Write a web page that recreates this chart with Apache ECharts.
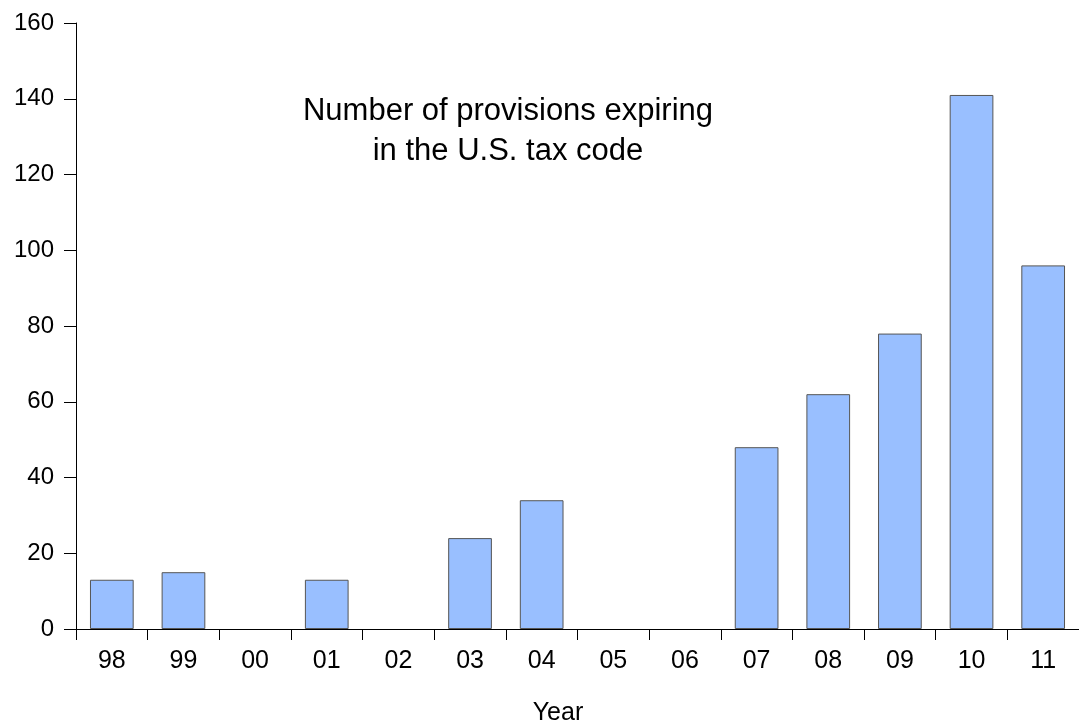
<!DOCTYPE html>
<html lang="en">
<head>
    <meta charset="UTF-8">
    <title>Expiring provisions</title>
    <script src="https://cdn.jsdelivr.net/npm/echarts@6/dist/echarts.min.js"></script>
    <style>
        html, body { margin: 0; padding: 0; background: #fff; }
        #chart { width: 1079px; height: 726px; }
    </style>
</head>
<body>
<div id="chart"></div>
<script type="text/javascript">
    var years = ['98', '99', '00', '01', '02', '03', '04', '05', '06', '07', '08', '09', '10', '11'];
    var provisions = [13, 15, 0, 13, 0, 24, 34, 0, 0, 48, 62, 78, 141, 96];
    var yTicks = [0, 20, 40, 60, 80, 100, 120, 140, 160];

    var chart = echarts.init(document.getElementById('chart'));
    var font = 'Liberation Sans, Arial, sans-serif';

    // zero-height bars have no outline in the original
    var barData = provisions.map(function (v) {
        return v === 0 ? { value: v, itemStyle: { borderWidth: 0 } } : v;
    });

    var option = {
        backgroundColor: '#fff',
        animation: false,
        grid: {
            left: 76,
            right: -5,
            top: 23,
            bottom: 97
        },
        graphic: [
            {
                type: 'text',
                x: 508,
                y: 91,
                style: {
                    text: 'Number of provisions expiring\nin the U.S. tax code',
                    font: '31px ' + font,
                    fill: '#000',
                    textAlign: 'center',
                    lineHeight: 40
                }
            },
            {
                type: 'text',
                x: 558,
                y: 701,
                style: {
                    text: 'Year',
                    font: '25px ' + font,
                    fill: '#000',
                    textAlign: 'center'
                }
            }
        ],
        xAxis: {
            type: 'category',
            data: years,
            boundaryGap: true,
            axisLine: { lineStyle: { color: '#000', width: 1 } },
            axisTick: { show: true, length: 11, inside: false, lineStyle: { color: '#000' } },
            axisLabel: { color: '#000', fontSize: 25, fontFamily: font, margin: 20 }
        },
        yAxis: {
            type: 'value',
            min: yTicks[0],
            max: yTicks[yTicks.length - 1],
            interval: 20,
            splitLine: { show: false },
            axisLine: { show: true, lineStyle: { color: '#000', width: 1 } },
            axisTick: { show: true, length: 12, lineStyle: { color: '#000' } },
            axisLabel: { color: '#000', fontSize: 24, fontFamily: font, margin: 22 }
        },
        series: [
            {
                type: 'bar',
                data: barData,
                barCategoryGap: '39%',
                itemStyle: {
                    color: '#99bfff',
                    borderColor: '#555',
                    borderWidth: 1
                }
            }
        ]
    };
    chart.setOption(option);
</script>
</body>
</html>
